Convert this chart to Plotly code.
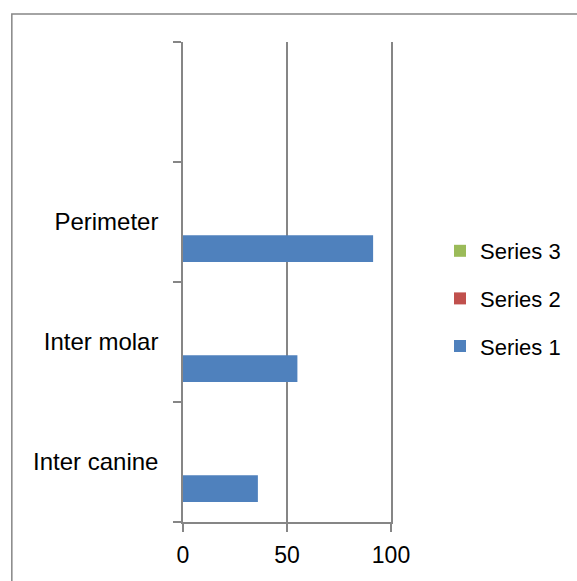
import plotly.graph_objects as go

categories = ["Inter canine", "Inter molar", "Perimeter", " "]
series1 = [36, 55, 91.4, None]
series2 = [0, 0, 0, None]
series3 = [0, 0, 0, None]
series_names = ["Series 1", "Series 2", "Series 3"]
colors = ["#4F81BD", "#C0504D", "#9BBB59"]
x_ticks = [0, 50, 100]

W, H = 577, 581
L, T = 183, 42
pw, ph = 209, 480
R, B = W - L - pw, H - T - ph

fig = go.Figure()
for i, (name, vals, c) in enumerate(zip(series_names, [series1, series2, series3], colors)):
    fig.add_trace(go.Bar(y=categories, x=vals, name=name, orientation="h",
                         marker=dict(color=c, line=dict(width=0)),
                         legendgroup=name, legendrank=3 - i))

FONT = "Liberation Sans"
fig.update_layout(
    width=W, height=H,
    margin=dict(l=L, r=R, t=T, b=B),
    paper_bgcolor="white", plot_bgcolor="white",
    barmode="group", bargap=0.333, bargroupgap=0,
    font=dict(family=FONT, size=24, color="#000000"),
    showlegend=True,
    legend=dict(traceorder="grouped", tracegroupgap=16,
                x=(440 - L) / pw, xanchor="left",
                y=1 - (230 - T) / ph, yanchor="top",
                font=dict(family=FONT, size=22),
                bgcolor="rgba(0,0,0,0)"),
    xaxis=dict(range=[0, 100], tickvals=x_ticks, showgrid=True,
               gridcolor="#868686", gridwidth=1.5, showline=True,
               linecolor="#868686", linewidth=1.5, ticks="outside",
               ticklen=8, tickcolor="#868686", tickwidth=1.5, zeroline=False,
               ticklabelstandoff=4, fixedrange=True,
               tickfont=dict(family=FONT, size=23)),
    yaxis=dict(type="category", categoryorder="array", categoryarray=categories,
               range=[-0.5, 3.5], showgrid=False, showline=True, mirror=True,
               linecolor="#868686", linewidth=1.5, ticks="outside",
               tickson="boundaries", ticklen=8, tickcolor="#868686", tickwidth=1.5,
               ticklabelstandoff=18, zeroline=False, fixedrange=True,
               tickfont=dict(family=FONT, size=24)),
    shapes=[dict(type="rect", xref="paper", yref="paper",
                 x0=(11 - L) / pw, x1=(W + 10 - L) / pw,
                 y0=-(H + 10 - (T + ph)) / ph, y1=1 + (T - 14) / ph,
                 line=dict(color="#868686", width=1.5), layer="below")],
)

fig.write_html("out.html", config={"displayModeBar": False},
               post_script="document.body.style.margin='0';document.body.style.overflow='hidden';")
